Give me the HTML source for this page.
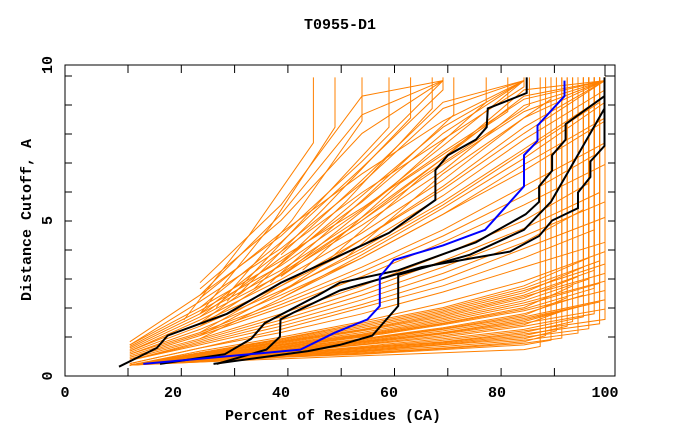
<!DOCTYPE html>
<html><head><meta charset="utf-8"><style>
body{margin:0;background:#fff}
svg{display:block}
text{font-family:"Liberation Mono",monospace;font-weight:bold;font-size:15px;fill:#000}
</style></head><body>
<svg id="c" width="680" height="440">
<text x="340" y="29" text-anchor="middle">T0955-D1</text>
<text x="333" y="420" text-anchor="middle">Percent of Residues (CA)</text>
<text transform="translate(31,220) rotate(-90)" text-anchor="middle">Distance Cutoff, A</text>
<g id="marks"></g>
<rect x="65" y="65" width="550" height="311" fill="none" stroke="#000" stroke-width="1"/>
<g id="ticks"></g>
</svg>
<script>
const xTicks=[0,20,40,60,80,100];
const yTicks=[0,5,10];
const orangeKnots=[12,25,40,55,70,85];
const orangeEnd=[88,90,92,89,95,91,97,93,99,94,100,96,98,92,100,95,97,99,100,93,96,100,98,94,99,100,97,95,100,98,96,100,99,97,100,100,98,100,96,100,99,97,100,98,100,100,99,100,100,100,100,100,100,100,100,100,100,100,100,100,100,100,100,100,100,100,100,100,100,100,100];
const orange=[
[0.35,0.45,0.55,0.65,0.75,0.85,0.95],
[0.35,0.45,0.6,0.7,0.85,1.0,1.15],
[0.35,0.48,0.6,0.72,0.88,1.05,1.22],
[0.35,0.5,0.62,0.75,0.9,1.1,1.3],
[0.35,0.5,0.64,0.78,0.95,1.15,1.38],
[0.35,0.5,0.65,0.8,1.0,1.2,1.45],
[0.35,0.5,0.66,0.82,1.02,1.25,1.52],
[0.35,0.5,0.68,0.85,1.05,1.3,1.6],
[0.35,0.52,0.7,0.88,1.08,1.35,1.68],
[0.35,0.52,0.7,0.9,1.1,1.4,1.75],
[0.35,0.54,0.71,0.92,1.15,1.45,1.82],
[0.35,0.55,0.72,0.95,1.2,1.5,1.9],
[0.35,0.55,0.75,1.0,1.25,1.6,2.0],
[0.35,0.55,0.78,1.02,1.3,1.65,2.08],
[0.35,0.55,0.8,1.05,1.35,1.7,2.15],
[0.35,0.58,0.81,1.08,1.38,1.75,2.22],
[0.35,0.6,0.82,1.1,1.4,1.8,2.3],
[0.35,0.6,0.84,1.12,1.45,1.85,2.38],
[0.35,0.6,0.85,1.15,1.5,1.9,2.45],
[0.35,0.6,0.88,1.18,1.52,1.95,2.52],
[0.35,0.6,0.9,1.2,1.55,2.0,2.6],
[0.35,0.62,0.92,1.25,1.65,2.1,2.75],
[0.35,0.64,0.94,1.28,1.68,2.15,2.82],
[0.35,0.65,0.95,1.3,1.7,2.2,2.9],
[0.35,0.65,0.98,1.32,1.75,2.28,2.98],
[0.35,0.65,1.0,1.35,1.8,2.35,3.05],
[0.35,0.68,1.02,1.4,1.85,2.42,3.12],
[0.35,0.7,1.05,1.45,1.9,2.5,3.2],
[0.35,0.7,1.08,1.48,1.95,2.55,3.3],
[0.35,0.7,1.1,1.5,2.0,2.6,3.4],
[0.35,0.72,1.12,1.55,2.05,2.68,3.5],
[0.35,0.75,1.15,1.6,2.1,2.75,3.6],
[0.35,0.75,1.18,1.65,2.15,2.82,3.7],
[0.35,0.75,1.2,1.7,2.2,2.9,3.8],
[0.35,0.8,1.25,1.75,2.35,3.05,4.0],
[0.4,0.9,1.4,2.0,2.7,3.5,4.3],
[0.4,0.9,1.5,2.2,2.9,3.8,4.7],
[0.5,1.0,1.6,2.3,3.1,4.1,5.1],
[0.5,1.05,1.7,2.45,3.3,4.3,5.35],
[0.5,1.1,1.8,2.6,3.5,4.5,5.6],
[0.55,1.15,1.9,2.75,3.7,4.75,5.9],
[0.6,1.2,2.0,2.9,3.9,5.0,6.2],
[0.6,1.3,2.2,3.2,4.3,5.5,6.8],
[0.65,1.35,2.3,3.35,4.5,5.8,7.1],
[0.7,1.4,2.4,3.5,4.7,6.1,7.5],
[0.7,1.5,2.6,3.8,5.2,6.8,8.3],
[0.75,1.6,2.75,4.0,5.5,7.2,8.8],
[0.8,1.7,2.9,4.2,5.8,7.6,9.2],
[0.8,1.8,3.1,4.6,6.3,8.3,9.5],
[0.85,1.9,3.25,4.85,6.6,8.7,9.5],
[0.9,2.0,3.4,5.1,7.0,9.2,9.5],
[0.95,2.1,3.55,5.35,7.4,9.5,null],
[1.0,2.2,3.7,5.6,7.8,9.5,null],
[1.0,2.4,4.1,6.2,8.6,9.5,null],
[1.1,2.6,4.5,6.9,9.5,null,null],
[null,2.8,5.0,7.8,9.5,null,null],
[null,3.0,5.5,9.0,9.5,null,null],
[null,2.5,4.6,6.5,8.2,9.5,null],
[null,1.9,3.8,5.4,7.2,8.9,9.5],
[null,1.6,3.3,5.0,6.8,8.5,9.5],
[null,1.7,3.6,5.8,8.0,9.5,null],
[null,2.2,4.3,6.7,9.2,null,null],
[null,2.0,4.0,5.9,7.6,9.3,null],
[null,1.4,2.9,4.4,6.0,7.8,9.5],
[null,1.3,2.7,4.1,5.6,7.3,9.0],
[null,2.6,5.2,8.4,9.5,null,null],
[null,null,3.9,6.3,8.8,9.5,null],
[null,null,3.2,5.0,7.0,9.0,9.5],
[null,null,2.7,4.4,6.1,8.0,9.5],
[null,null,2.5,3.9,5.4,7.0,8.8],
[null,1.2,2.5,3.8,5.2,6.6,8.2]
];
const upperX=[
[22,34,46,46],
[25,38,50,50],
[28,42,55,55],
[30,45,60,60],
[32,48,64,64],
[35,52,68,68],
[38,56,72,72],
[40,60,78,78],
[44,62,82,82],
[48,66,86,86],
[52,70,90,90]
];
const upperY=[
[1.8,4.5,7.5,9.6],
[2.0,4.8,8.0,9.6],
[2.2,5.0,8.2,9.6],
[2.4,5.2,8.0,9.6],
[2.6,5.4,8.3,9.6],
[2.8,5.6,8.6,9.6],
[3.0,5.8,8.4,9.6],
[3.2,6.0,8.8,9.6],
[3.4,6.2,8.5,9.6],
[3.6,6.4,8.7,9.6],
[3.8,6.5,8.9,9.6]
];
const blueX=[14.5,43.6,49.9,56,58.3,58.3,60.9,70,77.8,85,85,87.5,87.5,92.5,92.5];
const blueY=[0.39,0.85,1.39,1.82,2.25,3.19,3.73,4.2,4.7,6.1,7.1,7.56,8.05,9.0,9.5];
const blackX=[
[10,17,19,30,40,50,60,68.6,68.6,70.9,76.1,78.1,78.3,85.5,85.5],
[17.6,29.6,34.5,37,46.9,50.9,61.7,76.1,85.3,87.8,87.8,90.2,90.2,92.7,92.7,99.9,99.9],
[28.1,37.3,39.8,39.9,42.2,50.9,66,82.4,87.8,90.2,95,95,97.3,97.3,99.9,99.9],
[27.5,45,50.9,56.9,61.7,61.7,75,85,90,99.9]
];
const blackY=[
[0.3,0.9,1.3,2.0,3.0,3.8,4.6,5.66,6.62,7.1,7.6,8.0,8.6,9.1,9.6],
[0.39,0.7,1.2,1.7,2.6,3.0,3.4,4.3,5.2,5.6,6.1,6.6,7.1,7.6,8.1,9.0,9.6],
[0.39,0.85,1.26,1.82,2.03,2.75,3.5,4.0,4.5,5.0,5.4,5.9,6.4,6.9,7.4,9.0],
[0.39,0.8,1.0,1.3,2.25,3.25,3.9,4.7,5.6,8.6]
];
const X=v=>65+5.4*v, Y=v=>376-31.1*v;
const NS='http://www.w3.org/2000/svg';
const svg=document.getElementById('c');
const marks=document.getElementById('marks'), ticks=document.getElementById('ticks');
function poly(pts,color,w,name){
  const p=document.createElementNS(NS,'polyline');
  p.setAttribute('points',pts.map(a=>X(a[0]).toFixed(1)+','+Y(a[1]).toFixed(1)).join(' '));
  p.setAttribute('fill','none');
  p.setAttribute('stroke',color);
  p.setAttribute('stroke-width',w);
  
  
  marks.appendChild(p);
}
orange.forEach((row,i)=>{
  const pts=[];
  row.forEach((v,j)=>{
    if(v===null)return;
    const x=j<orangeKnots.length?orangeKnots[j]:orangeEnd[i];
    pts.push([x,v]);
  });
  const last=pts[pts.length-1];
  if(last[1]<9.5)pts.push([last[0],9.6]);
  poly(pts,'#ff8000',1,'model-line-'+i);
});
upperX.forEach((xs,i)=>poly(xs.map((x,j)=>[x,upperY[i][j]]),'#ff8000',1,'upper-model-line-'+i));
blackX.forEach((xs,i)=>poly(xs.map((x,j)=>[x,blackY[i][j]]),'#000',2,'highlight-line-'+i));
poly(blueX.map((x,j)=>[x,blueY[j]]),'#0000ff',2,'target-model-line');
function line(x1,y1,x2,y2,name){
  const l=document.createElementNS(NS,'line');
  l.setAttribute('x1',x1);l.setAttribute('y1',y1);l.setAttribute('x2',x2);l.setAttribute('y2',y2);
  l.setAttribute('stroke','#000');
  
  
  ticks.appendChild(l);
}
for(let k=0;k<10;k++){const y=76+29*k;line(65,y,72,y,'y-tick');line(608,y,615,y,'y-tick-right');}
for(let k=0;k<9;k++){const x=128+53.3*k;line(x,65,x,73,'x-tick-top');line(x,368,x,376,'x-tick');}
line(605,65,605,76,'corner-tick');
line(605,76,615,76,'corner-tick');
xTicks.forEach(v=>{
  const t=document.createElementNS(NS,'text');
  t.setAttribute('x',X(v));t.setAttribute('y',397);t.setAttribute('text-anchor','middle');
  t.textContent=v;
  
  
  svg.appendChild(t);
});
yTicks.forEach(v=>{
  const t=document.createElementNS(NS,'text');
  t.setAttribute('transform','translate(52,'+Y(v)+') rotate(-90)');t.setAttribute('text-anchor','middle');
  t.textContent=v;
  
  
  svg.appendChild(t);
});
</script>
</body></html>
